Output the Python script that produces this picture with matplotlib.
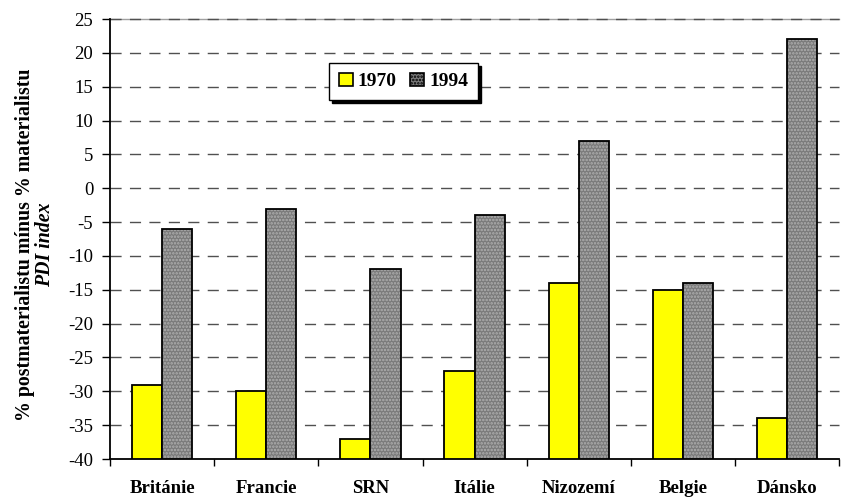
import matplotlib
matplotlib.use("Agg")
import matplotlib.pyplot as plt
import numpy as np
from matplotlib.patches import Patch

categories = ["Británie", "Francie", "SRN", "Itálie", "Nizozemí", "Belgie", "Dánsko"]
values_1970 = [-29, -30, -37, -27, -14, -15, -34]
values_1994 = [-6, -3, -12, -4, 7, -14, 22]
series_names = ["1970", "1994"]
yticks = list(range(-40, 26, 5))

plt.rcParams['font.family'] = ['Liberation Serif', 'DejaVu Serif']
plt.rcParams['hatch.linewidth'] = 1.2

fig = plt.figure(figsize=(8.46, 4.98), dpi=100)
ax = fig.add_axes([0.130, 0.0783, 0.862, 0.8835])

base = -40
x = np.arange(len(categories))
w = 0.29
h1 = [v - base for v in values_1970]
h2 = [v - base for v in values_1994]

ax.bar(x - w/2, h1, w, bottom=base, color='#ffff00', edgecolor='black', linewidth=1.3, zorder=3)
# grey textured bars
ax.bar(x + w/2, h2, w, bottom=base, color='#7a7a7a', edgecolor='#b0b0b0', hatch='.....', linewidth=0, zorder=3)
ax.bar(x + w/2, h2, w, bottom=base, fill=False, edgecolor='black', linewidth=1.3, zorder=4)

ax.set_xlim(-0.5, len(categories) - 0.5)
ax.set_ylim(-40, 25)
ax.set_yticks(yticks)
ax.set_yticklabels([str(t) for t in yticks], fontsize=13.5)
ax.axhline(25, color='#a0a0a0', linewidth=1.0, zorder=1, clip_on=False)
for t in yticks:
    if t > -40:
        ax.axhline(t, color='#505050', linestyle=(0, (8, 6)), linewidth=1.0, zorder=1, clip_on=False)

ax.set_xticks(np.arange(len(categories) + 1) - 0.5)
ax.set_xticklabels([])
ax.tick_params(axis='x', length=5, width=1, direction='out')
ax.tick_params(axis='y', length=6, width=1, direction='out', pad=6)
for i, c in enumerate(categories):
    ax.text(i, -44.4, c, ha='center', va='center', fontsize=13.5, fontweight='bold')

for s in ['top', 'right']:
    ax.spines[s].set_visible(False)
for s in ['left', 'bottom']:
    ax.spines[s].set_linewidth(1.3)

fig.text(25/846, 0.508, "% postmaterialistu mínus % materialistu", rotation=90,
         ha='center', va='center', fontsize=14.3, fontweight='bold')
fig.text(45/846, 0.508, "PDI index", rotation=90, ha='center', va='center',
         fontsize=14.3, fontweight='bold', style='italic')

handles = [Patch(facecolor='#ffff00', edgecolor='black', linewidth=1.2),
           Patch(facecolor='#7a7a7a', edgecolor='black', hatch='.....', linewidth=1.2)]
leg = ax.legend(handles, series_names, loc='upper left', bbox_to_anchor=(0.301, 0.90),
                ncol=2, frameon=True, fancybox=False, shadow={'color': 'black', 'alpha': 1},
                prop={'weight': 'bold', 'size': 14}, handlelength=0.7, handleheight=0.7,
                handletextpad=0.26, columnspacing=0.7, borderpad=0.5, borderaxespad=0)
leg.get_frame().set_edgecolor('black')
leg.get_frame().set_linewidth(1.0)
leg.set_zorder(10)

fig.savefig("out.png", dpi=100)
